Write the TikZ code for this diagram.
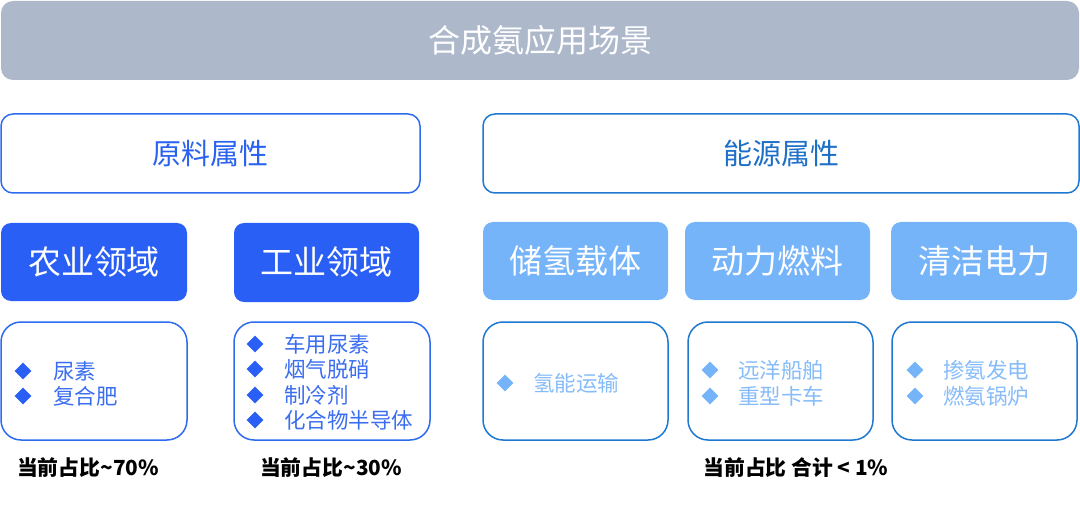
\documentclass[tikz,border=0pt]{standalone}
\usepackage{fontspec}
\setmainfont{Noto Sans CJK SC}
\usetikzlibrary{shapes.geometric}
\definecolor{banner}{HTML}{ADB8CA}
\definecolor{rawblue}{HTML}{2E6BEE}
\definecolor{rawtext}{HTML}{2962F0}
\definecolor{enblue}{HTML}{1F78D1}
\definecolor{entext}{HTML}{1E6FC8}
\definecolor{darkfill}{HTML}{2A5FF5}
\definecolor{lightfill}{HTML}{76B4FA}
\definecolor{lbtext}{HTML}{3A6DF0}
\definecolor{rbtext}{HTML}{86BCF9}
\tikzset{
  box/.style={rectangle, inner sep=0pt, outer sep=0pt},
  bannerbox/.style={box, fill=banner, rounded corners=12pt, text=white, font=\fontsize{32}{36}\selectfont},
  attrbox/.style={box, draw, line width=1.5pt, fill=white, rounded corners=12pt, font=\fontsize{29}{34}\selectfont},
  fieldbox/.style={box, rounded corners=10pt, text=white, font=\fontsize{33}{38}\selectfont},
  listbox/.style={box, draw, line width=1.5pt, fill=white, rounded corners=20pt},
  bul/.style={diamond, inner sep=0pt, minimum size=17pt},
  item/.style={anchor=west, inner sep=0pt, font=\fontsize{21.5}{24}\selectfont},
  share/.style={inner sep=0pt, font=\bfseries\fontsize{20.8}{24}\selectfont, text=black}
}
\begin{document}
\begin{tikzpicture}[x=1pt,y=-1pt]
\useasboundingbox (0,0) rectangle (1080,508);
% banner
\node[bannerbox, minimum width=1078pt, minimum height=79pt] (top) at (540,40.5) {合成氨应用场景};
% attributes
\node[attrbox, draw=rawblue, text=rawtext, minimum width=419pt, minimum height=79pt] (raw) at (210.5,153.5) {原料属性};
\node[attrbox, draw=enblue, text=entext, minimum width=596pt, minimum height=79pt] (energy) at (781,153.5) {能源属性};
% fields
\node[fieldbox, fill=darkfill, minimum width=186pt, minimum height=78pt] (agri) at (94,262) {农业领域};
\node[fieldbox, fill=darkfill, minimum width=185pt, minimum height=79pt] (ind) at (326.5,262.5) {工业领域};
\node[fieldbox, fill=lightfill, minimum width=185pt, minimum height=78pt] (h2) at (575.5,261) {储氢载体};
\node[fieldbox, fill=lightfill, minimum width=185pt, minimum height=78pt] (fuel) at (777.5,261) {动力燃料};
\node[fieldbox, fill=lightfill, minimum width=186pt, minimum height=78pt] (power) at (984,261) {清洁电力};
% lists
\node[listbox, draw=rawblue, minimum width=186pt, minimum height=118pt] (l1) at (94,381) {};
\node[listbox, draw=rawblue, minimum width=196pt, minimum height=118pt] (l2) at (332,381) {};
\node[listbox, draw=enblue, minimum width=185pt, minimum height=118pt] (l3) at (575.5,381) {};
\node[listbox, draw=enblue, minimum width=185pt, minimum height=118pt] (l4) at (780.5,381) {};
\node[listbox, draw=enblue, minimum width=185pt, minimum height=118pt] (l5) at (984.5,381) {};
% list 1
\node[bul, fill=darkfill] (d11) at (23,371) {};
\node[item, text=lbtext] (t11) at (53,371) {尿素};
\node[bul, fill=darkfill] (d12) at (23,396) {};
\node[item, text=lbtext] (t12) at (53,396) {复合肥};
% list 2
\node[bul, fill=darkfill] (d21) at (255,344) {};
\node[item, text=lbtext] (t21) at (284,344) {车用尿素};
\node[bul, fill=darkfill] (d22) at (255,369) {};
\node[item, text=lbtext] (t22) at (284,369) {烟气脱硝};
\node[bul, fill=darkfill] (d23) at (255,395) {};
\node[item, text=lbtext] (t23) at (284,395) {制冷剂};
\node[bul, fill=darkfill] (d24) at (255,420) {};
\node[item, text=lbtext] (t24) at (284,420) {化合物半导体};
% list 3
\node[bul, fill=lightfill] (d31) at (505,383) {};
\node[item, text=rbtext] (t31) at (533,383) {氢能运输};
% list 4
\node[bul, fill=lightfill] (d41) at (710,370) {};
\node[item, text=rbtext] (t41) at (738,370) {远洋船舶};
\node[bul, fill=lightfill] (d42) at (710,396) {};
\node[item, text=rbtext] (t42) at (738,396) {重型卡车};
% list 5
\node[bul, fill=lightfill] (d51) at (915,370) {};
\node[item, text=rbtext] (t51) at (943,370) {掺氨发电};
\node[bul, fill=lightfill] (d52) at (915,396) {};
\node[item, text=rbtext] (t52) at (943,396) {燃氨锅炉};
% shares
\node[share] (s1) at (88,468) {当前占比\textasciitilde 70\%};
\node[share] (s2) at (331,468) {当前占比\textasciitilde 30\%};
\node[share] (s3) at (796,468) {当前占比 合计 < 1\%};
\end{tikzpicture}
\end{document}
